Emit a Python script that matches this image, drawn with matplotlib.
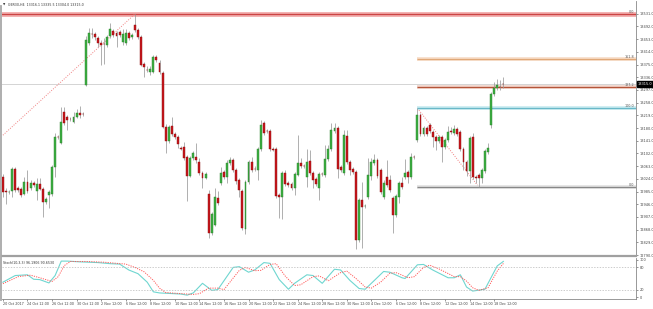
import matplotlib
matplotlib.use("Agg")
import matplotlib.pyplot as plt
from matplotlib.lines import Line2D

plt.rcParams.update({
    "font.family": "DejaVu Sans",
    "font.size": 2.5,
})

# =========================
# GER30 H4 candles
# =========================
opens = [
    13029, 12986, 12983, 12986, 13054, 12996, 12993, 12977, 13014, 12996,
    13011, 12986, 13008, 12993, 12953, 12974, 12977, 13060, 13152, 13134,
    13229, 13214, 13208, 13198, 13214, 13226, 13223, 13312, 13441, 13469,
    13469, 13456, 13441, 13438, 13435, 13462, 13478, 13472, 13475, 13444,
    13441, 13472, 13459, 13496, 13481, 13459, 13377, 13358, 13352, 13352,
    13398, 13380, 13349, 13183, 13140, 13186, 13161, 13152, 13118, 13122,
    13091, 13033, 13088, 13091, 13076, 13042, 13026, 12977, 12857, 12882,
    12965, 13011, 13045, 13029, 13072, 13082, 13051, 13020, 12986, 12870,
    13014, 13076, 13054, 13051, 13115, 13195, 13171, 13171, 13115, 13115,
    12974, 12968, 13042, 13011, 13008, 12996, 13036, 13072, 13063, 13029,
    13079, 13042, 13023, 12996, 13039, 13036, 13085, 13115, 13171, 13180,
    13060, 13042, 13155, 13076, 13054, 13045, 12836, 12959, 12940, 12968,
    13033, 13072, 13082, 13051, 12968, 13029, 13020, 12965, 12913, 12968,
    13011, 13029, 13045, 13029, 13091, 13143, 13220, 13161, 13180, 13189,
    13168, 13152, 13140, 13152, 13122, 13143, 13171, 13165, 13177, 13168,
    13115, 13076, 13048, 13152, 13029, 13036, 13026, 13048, 13106, 13189,
    13284, 13303, 13306, 13316.1,
]
highs = [
    13039, 12996, 12990, 13060, 13060, 13002, 12999, 13029, 13051, 13020,
    13017, 13026, 13026, 12999, 12968, 12990, 13066, 13165, 13158, 13244,
    13244, 13220, 13214, 13229, 13238, 13247, 13229, 13462, 13487, 13487,
    13475, 13462, 13450, 13456, 13466, 13502, 13484, 13478, 13481, 13484,
    13484, 13478, 13472, 13530, 13487, 13466, 13383, 13370, 13370, 13404,
    13404, 13389, 13355, 13192, 13189, 13214, 13168, 13158, 13125, 13137,
    13097, 13094, 13109, 13134, 13088, 13048, 13045, 12990, 12922, 12996,
    12986, 13060, 13051, 13082, 13091, 13088, 13057, 13026, 12993, 13020,
    13082, 13091, 13063, 13122, 13204, 13201, 13177, 13177, 13122, 13122,
    12980, 13048, 13051, 13017, 13014, 13045, 13158, 13088, 13069, 13115,
    13112, 13048, 13029, 13045, 13045, 13128, 13128, 13195, 13195, 13186,
    13066, 13174, 13174, 13082, 13060, 13051, 12965, 13014, 12947, 13088,
    13088, 13100, 13088, 13057, 13020, 13082, 13036, 12971, 12977, 13017,
    13029, 13085, 13051, 13103, 13097, 13241, 13226, 13186, 13186, 13195,
    13174, 13158, 13158, 13158, 13149, 13186, 13183, 13189, 13183, 13174,
    13122, 13082, 13155, 13165, 13036, 13042, 13057, 13115, 13134, 13290,
    13321, 13330, 13327, 13335.5,
]
lows = [
    12968, 12947, 12977, 12968, 12983, 12983, 12968, 12974, 12980, 12990,
    12999, 12959, 12990, 12907, 12947, 12934, 12971, 13029, 13146, 13131,
    13189, 13174, 13201, 13195, 13211, 13211, 13217, 13309, 13435, 13456,
    13450, 13429, 13373, 13377, 13429, 13456, 13459, 13429, 13459, 13435,
    13435, 13450, 13453, 13475, 13453, 13370, 13337, 13352, 13343, 13349,
    13383, 13346, 13180, 13103, 13134, 13155, 13146, 13118, 13112, 13082,
    12956, 13029, 13082, 13072, 13036, 12996, 13023, 12842, 12851, 12879,
    12943, 13005, 13023, 13011, 13066, 13045, 13008, 12968, 12867, 12854,
    13008, 13045, 13048, 13020, 13109, 13158, 13165, 13109, 13109, 12965,
    12904, 12900, 13002, 12999, 12990, 12974, 13033, 13057, 13057, 12999,
    13036, 12996, 13002, 12959, 13033, 13029, 13079, 13109, 13165, 13026,
    13045, 13036, 13069, 13036, 13039, 12808, 12830, 12811, 12934, 12962,
    13020, 13066, 13026, 12977, 12962, 12999, 12983, 12857, 12907, 12950,
    12993, 13023, 13011, 13023, 13085, 13137, 13155, 13155, 13155, 13165,
    13122, 13112, 13134, 13076, 13115, 13137, 13161, 13158, 13155, 13109,
    13051, 13033, 13011, 13023, 13011, 12999, 13011, 13042, 13100, 13180,
    13278, 13297, 13297, 13304.0,
]
closes = [
    12983, 12983, 12984, 13054, 12990, 12990, 12974, 13014, 12986, 13011,
    13005, 13008, 12993, 12953, 12962, 12983, 13060, 13152, 13151, 13198,
    13195, 13204, 13207, 13214, 13226, 13220, 13222, 13450, 13472, 13468,
    13459, 13441, 13435, 13437, 13459, 13484, 13466, 13462, 13466, 13469,
    13472, 13456, 13466, 13481, 13459, 13373, 13367, 13357, 13361, 13398,
    13389, 13352, 13183, 13140, 13183, 13161, 13152, 13131, 13117, 13088,
    13033, 13088, 13103, 13082, 13042, 13026, 13039, 12857, 12916, 12968,
    12950, 13042, 13029, 13072, 13082, 13051, 13017, 12990, 12873, 13014,
    13076, 13051, 13053, 13115, 13189, 13165, 13170, 13115, 13114, 12971,
    12968, 13042, 13008, 13005, 12996, 13039, 13072, 13063, 13062, 13076,
    13042, 13020, 13008, 13039, 13038, 13085, 13115, 13174, 13180, 13054,
    13051, 13158, 13076, 13051, 13045, 12836, 12959, 12937, 12941, 13036,
    13076, 13082, 13033, 12983, 13011, 13005, 12990, 12913, 12971, 13011,
    12999, 13042, 13029, 13091, 13090, 13220, 13161, 13180, 13161, 13171,
    13152, 13140, 13152, 13122, 13143, 13168, 13168, 13177, 13161, 13115,
    13076, 13048, 13149, 13029, 13028, 13026, 13051, 13109, 13118, 13284,
    13303, 13312, 13305, 13315.0,
]

# Stochastic(10,3,3) readings: main and signal
stoch_main_idx = [0, 4, 8, 10, 12, 15, 17, 19, 21, 25, 31, 35, 38, 41, 44, 47, 49, 51,
                  58, 60, 62, 65, 68, 70, 75, 77, 80, 82, 85, 87, 90, 93, 95, 99, 101,
                  104, 108, 110, 113, 116, 118, 121, 124, 126, 130, 131, 135, 137, 140,
                  145, 147, 149, 151, 153, 157, 161, 163]
stoch_main = [40, 58, 60, 48, 47, 38, 58, 97, 97, 95, 93, 90, 89, 73, 63, 40, 14, 11,
              8, 5, 11, 37, 18, 20, 80, 82, 67, 73, 93, 91, 47, 21, 37, 60, 58,
              37, 75, 73, 45, 23, 21, 45, 69, 67, 52, 50, 87, 88, 73,
              52, 52, 60, 27, 16, 21, 84, 96.19]
stoch_sig_idx = [0, 5, 9, 12, 16, 18, 20, 22, 27, 33, 37, 40, 43, 46, 49, 51, 53, 60,
                 62, 64, 67, 70, 72, 77, 79, 82, 84, 87, 89, 92, 95, 97, 101, 103, 106,
                 110, 112, 115, 118, 120, 123, 126, 128, 132, 134, 137, 139, 142, 147,
                 149, 151, 153, 155, 158, 161, 163]
stoch_sig = [36, 55, 59, 52, 42, 55, 85, 96, 96, 94, 91, 89, 80, 68, 45, 24, 12, 8,
             7, 9, 24, 24, 20, 72, 80, 71, 72, 88, 90, 56, 31, 33, 55, 57, 44,
             66, 70, 50, 27, 24, 40, 64, 66, 52, 55, 80, 86, 76, 55,
             55, 43, 25, 18, 25, 70, 90.65]

# price scale and time scale labels
price_ticks = [12790, 12829, 12868, 12907, 12946, 12985, 13024, 13063, 13102, 13141,
               13180, 13219, 13258, 13297, 13336, 13375, 13414, 13453, 13492, 13531]
date_idx = [0, 8, 16, 24, 32, 40, 48, 56, 64, 72, 80, 88, 96, 104, 112, 120, 128,
            136, 144, 152, 160]
date_labels = ["20 Oct 2017", "24 Oct 12:00", "26 Oct 12:00", "30 Oct 12:00",
               "2 Nov 12:00", "6 Nov 12:00", "8 Nov 12:00", "10 Nov 12:00",
               "14 Nov 12:00", "16 Nov 12:00", "20 Nov 12:00", "22 Nov 12:00",
               "24 Nov 12:00", "28 Nov 12:00", "30 Nov 12:00", "4 Dec 12:00",
               "6 Dec 12:00", "8 Dec 12:00", "12 Dec 12:00", "14 Dec 12:00",
               "18 Dec 12:00"]

# Fibonacci tools
fib_top_level = 13531          # 0.0 of the older retracement
fib1_anchor = ([0, 43], [13158, 13530])
fib2_anchor = ([135, 155], [13241, 12999])
fib2_levels = [0.0, 100.0, 127.2, 161.8]
bid = 13315.0

W, H = 653, 309


def box(x0, y0, x1, y1):
    return [x0 / W, 1 - y1 / H, (x1 - x0) / W, (y1 - y0) / H]


fig = plt.figure(figsize=(W / 100, H / 100), dpi=100)
ax = fig.add_axes(box(2, 1, 636, 256))
ax_st = fig.add_axes(box(2, 258, 636, 299), sharex=ax)

# ---------
# candles
# ---------
idx = list(range(len(opens)))
bull = [c >= o for o, c in zip(opens, closes)]
ax.vlines(idx, lows, highs, color="#9a9a9a", lw=0.55, zorder=2)
bottoms = [min(o, c) for o, c in zip(opens, closes)]
heights = [max(abs(c - o), 1.5) for o, c in zip(opens, closes)]
ax.bar(idx, heights, bottom=bottoms, width=0.62,
       color=["#3cb043" if b else "#c8161d" for b in bull],
       edgecolor=["#2a7d2a" if b else "#8b0d0d" for b in bull],
       linewidth=0.3, zorder=3)

# ---------
# fib / lines
# ---------
xmax = 206.2
ax.axhline(bid, color="#d4d4d4", lw=0.7, zorder=1)
ax.axhline(fib_top_level, color="#f3b3b3", lw=3.6, zorder=1)
ax.axhline(fib_top_level, color="#cc4444", lw=1.0, zorder=1)
ax.plot(*fib1_anchor, color="#f08080", lw=0.7, ls=(0, (1, 1.5)), zorder=1)
ax.plot(*fib2_anchor, color="#f08080", lw=0.7, ls=(0, (1, 1.5)), zorder=1)

lo, hi = fib2_anchor[1][1], fib2_anchor[1][0]
fib_styles = {
    0.0: ("#e0e0e0", "#888888"),
    100.0: ("#c6eaf0", "#6ab8c8"),
    127.2: ("#f0d2c8", "#b5553a"),
    161.8: ("#f7dcc6", "#e0a878"),
}
for lev in fib2_levels:
    y = lo + (hi - lo) * lev / 100.0
    halo, core = fib_styles[lev]
    ax.hlines(y, fib2_anchor[0][0], xmax, color=halo, lw=2.6, zorder=1)
    ax.hlines(y, fib2_anchor[0][0], xmax, color=core, lw=0.9, zorder=1)
    ax.text(0.9975, y, f"{lev:.1f}", transform=ax.get_yaxis_transform(),
            ha="right", va="bottom", fontsize=2.4, color="#555555")
ax.text(0.9975, fib_top_level, "0.0", transform=ax.get_yaxis_transform(),
        ha="right", va="bottom", fontsize=2.4, color="#555555")

ax.set_xlim(-0.3, xmax)
ax.set_ylim(12787, 13570)
ax.yaxis.tick_right()
ax.set_yticks(price_ticks)
ax.set_yticklabels([f"{p:.1f}" for p in price_ticks])
ax.tick_params(axis="y", length=1.5, width=0.4, pad=1, labelsize=2.5,
               colors="#444444")
ax.tick_params(axis="x", bottom=False, labelbottom=False)
for s in ("left", "top"):
    ax.spines[s].set_visible(False)
ax.spines["right"].set_color("#888888")
ax.spines["right"].set_linewidth(0.6)
ax.spines["bottom"].set_color("#a0a0a0")
ax.spines["bottom"].set_linewidth(1.6)

# current price box
ax.text(1.003, bid, f"{bid:.1f}", transform=ax.get_yaxis_transform(),
        ha="left", va="center", fontsize=2.5, color="white",
        bbox=dict(boxstyle="square,pad=0.25", fc="black", ec="black"),
        zorder=5, clip_on=False)

# title
fig.text(3 / W, 1 - 5 / H, "\u25bc", fontsize=2.2, color="#333333",
         ha="left", va="center")
fig.text(8 / W, 1 - 5 / H, "GER30,H4  13316.1 13335.5 13304.0 13315.0",
         fontsize=2.3, color="#333333", ha="left", va="center")

# ---------
# stochastic
# ---------
ax_st.plot(stoch_main_idx, stoch_main, color="#6fd6d0", lw=0.8)
ax_st.plot(stoch_sig_idx, stoch_sig, color="#ff5a5a", lw=0.7, ls=(0, (1.2, 1.2)))
for lev in (80, 20):
    ax_st.axhline(lev, color="#b8b8b8", lw=0.5, ls=(0, (2, 2)))
ax_st.set_ylim(-5.4, 105.4)
ax_st.yaxis.tick_right()
ax_st.set_yticks([0, 20, 80, 100])
ax_st.set_yticklabels(["0", "20", "80", "100"])
ax_st.tick_params(axis="y", length=1.5, width=0.4, pad=1, labelsize=2.5,
                  colors="#444444")
ax_st.set_xticks(date_idx)
ax_st.set_xticklabels(date_labels, ha="left")
ax_st.tick_params(axis="x", length=1.5, width=0.4, pad=1, labelsize=2.4,
                  colors="#444444")
ax_st.text(0.002, 0.93, "Stoch(10,3,3) 96.1906 90.6530", transform=ax_st.transAxes,
           ha="left", va="top", fontsize=2.3, color="#333333")
for s in ("left", "top"):
    ax_st.spines[s].set_visible(False)
for s in ("right", "bottom"):
    ax_st.spines[s].set_color("#888888")
    ax_st.spines[s].set_linewidth(0.6)

# window border on the left
fig.add_artist(Line2D([0.8 / W, 0.8 / W], [1 - 300 / H, 1 - 6 / H],
                      transform=fig.transFigure, color="#a8a8a8", lw=1.3))

fig.savefig("out.png", dpi=100, facecolor="white")
plt.close(fig)
